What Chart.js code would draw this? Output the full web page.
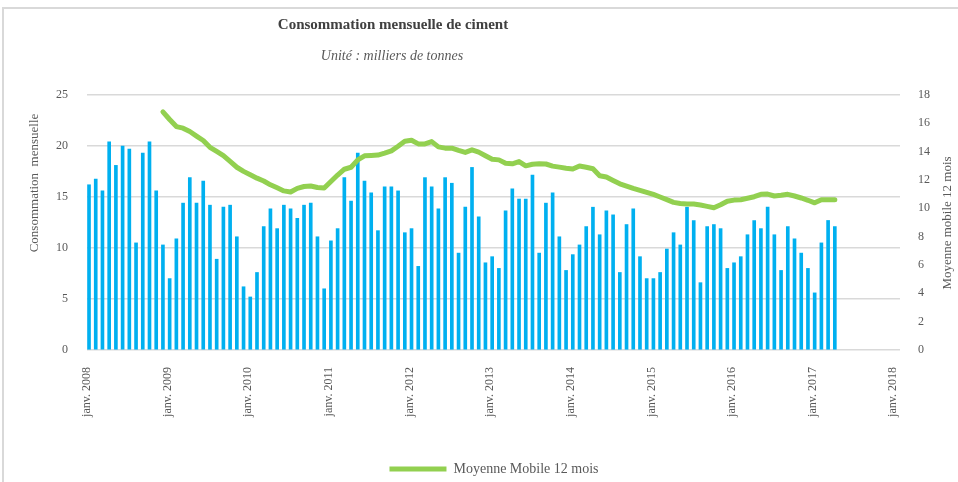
<!DOCTYPE html>
<html>
<head>
<meta charset="utf-8">
<script src="https://cdn.jsdelivr.net/npm/chart.js@4.4.1/dist/chart.umd.min.js"></script>
<style>
  html, body { margin: 0; padding: 0; background: #fff; }
  #wrap { position: relative; width: 958px; height: 482px; overflow: hidden; }
  #frame { position: absolute; left: 2px; top: 7px; width: 1000px; height: 520px;
           border: 2px solid #d9d9d9; box-sizing: border-box; pointer-events: none; }
  canvas { position: absolute; left: 0; top: 0; }
</style>
</head>
<body>
<div id="wrap">
  <div id="frame"></div>
  <canvas id="graf" width="958" height="482"></canvas>
</div>
<script>
// Consommation mensuelle de ciment, janv. 2008 -> avr. 2017 (milliers de tonnes)
const consommation = [
  16.2, 16.75, 15.6, 20.4, 18.1, 20.0, 19.7, 10.5, 19.3, 20.4, 15.6, 10.3,
  7.0, 10.9, 14.4, 16.9, 14.4, 16.55, 14.2, 8.9, 14.0, 14.2, 11.1, 6.2,
  5.2, 7.6, 12.1, 13.85, 11.9, 14.2, 13.85, 12.9, 14.2, 14.4, 11.1, 6.0,
  10.7, 11.9, 16.9, 14.6, 19.3, 16.55, 15.4, 11.7, 16.0, 16.0, 15.6, 11.5,
  11.9, 8.2, 16.9, 16.0, 13.85, 16.9, 16.35, 9.5, 14.0, 17.9, 13.05, 8.55,
  9.15, 8.0, 13.65, 15.8, 14.8, 14.8, 17.15, 9.5, 14.4, 15.4, 11.1, 7.8,
  9.35, 10.3, 12.1, 14.0, 11.3, 13.65, 13.25, 7.6, 12.3, 13.85, 9.15, 7.0,
  7.0, 7.6, 9.9, 11.5, 10.3, 14.0, 12.7, 6.6, 12.1, 12.3, 11.9, 8.0,
  8.55, 9.15, 11.3, 12.7, 11.9, 14.0, 11.3, 7.8, 12.1, 10.9, 9.5, 8.0,
  5.6, 10.5, 12.7, 12.1
]

// moyenne mobile 12 mois, a partir de dec. 2008
const mmDebut = 11
const moyenneMobile = [
  16.81, 16.27, 15.77, 15.66, 15.42, 15.10, 14.79, 14.31, 14.02, 13.72, 13.31, 12.90,
  12.61, 12.37, 12.13, 11.93, 11.66, 11.45, 11.23, 11.15, 11.41, 11.54, 11.58, 11.47,
  11.43, 11.89, 12.35, 12.76, 12.90, 13.42, 13.71, 13.73, 13.76, 13.90, 14.06, 14.38,
  14.73, 14.80, 14.55, 14.55, 14.71, 14.34, 14.25, 14.25, 14.09, 13.95, 14.13, 13.97,
  13.71, 13.46, 13.42, 13.18, 13.14, 13.30, 13.00, 13.11, 13.14, 13.13, 12.98, 12.91,
  12.83, 12.77, 12.99, 12.90, 12.79, 12.30, 12.21, 11.97, 11.73, 11.57, 11.41, 11.27,
  11.13, 10.98, 10.80, 10.61, 10.42, 10.34, 10.30, 10.30, 10.23, 10.14, 10.04, 10.25,
  10.50, 10.58, 10.61, 10.71, 10.82, 10.99, 11.01, 10.87, 10.92, 10.99, 10.87, 10.73,
  10.57, 10.39, 10.61, 10.61, 10.61
]

const anneeTicks = ['janv. 2008', 'janv. 2009', 'janv. 2010', 'janv. 2011', 'janv. 2012',
  'janv. 2013', 'janv. 2014', 'janv. 2015', 'janv. 2016', 'janv. 2017', 'janv. 2018']

const gris = '#595959'
const serif = "'Liberation Serif', 'DejaVu Serif', serif"

// titres dessines a la main (position decalee comme dans Excel)
const titres = {
  id: 'titres',
  afterLayout(chart) {
    // legende un peu decalee vers la droite comme dans l'original
    chart.legend.left += 15
    chart.legend.right += 15
  },
  afterDraw(chart) {
    const ctx = chart.ctx
    ctx.save()
    ctx.textAlign = 'center'
    ctx.textBaseline = 'middle'
    ctx.fillStyle = '#404040'
    ctx.font = 'bold 15px ' + serif
    ctx.fillText('Consommation mensuelle de ciment', 393, 25)
    ctx.fillStyle = gris
    ctx.font = 'italic 14px ' + serif
    ctx.fillText('Unité : milliers de tonnes', 392, 56)

    ctx.font = '13px ' + serif
    ctx.translate(35, 183)
    ctx.rotate(-Math.PI / 2)
    ctx.fillText('Consommation  mensuelle', 0, 0)
    ctx.restore()

    ctx.save()
    ctx.textAlign = 'center'
    ctx.textBaseline = 'middle'
    ctx.fillStyle = gris
    ctx.font = '13px ' + serif
    ctx.translate(948, 223)
    ctx.rotate(-Math.PI / 2)
    ctx.fillText('Moyenne mobile 12 mois', 0, 0)
    ctx.restore()
  }
}

new Chart(document.getElementById('graf'), {
  data: {
    datasets: [
      {
        type: 'bar',
        label: 'Consommation mensuelle',
        data: consommation.map((v, i) => ({ x: i + 0.3, y: v })),
        backgroundColor: '#00b0f0',
        barThickness: 3,
        yAxisID: 'y',
        order: 2
      },
      {
        type: 'line',
        label: 'Moyenne Mobile 12 mois',
        data: moyenneMobile.map((v, i) => ({ x: i + mmDebut + 0.3, y: v })),
        borderColor: '#92d050',
        backgroundColor: '#92d050',
        borderWidth: 5,
        pointRadius: 0,
        borderJoinStyle: 'round',
        borderCapStyle: 'round',
        yAxisID: 'y1',
        order: 1
      }
    ]
  },
  options: {
    responsive: false,
    animation: false,
    layout: { padding: { top: 95, left: 0, right: 0, bottom: -4 } },
    scales: {
      x: {
        type: 'linear',
        offset: false,
        min: 0,
        max: 121,
        afterBuildTicks: s => { s.ticks = anneeTicks.map((t, i) => ({ value: i * 12 })) },
        afterFit: s => { s.height = 106 },
        ticks: {
          callback: (v) => anneeTicks[Math.round(v / 12)],
          minRotation: 90,
          maxRotation: 90,
          padding: 9,
          color: gris,
          font: { family: serif, size: 12 }
        },
        grid: { display: false, offset: false },
        border: { display: false }
      },
      y: {
        position: 'left',
        min: 0,
        max: 25,
        afterFit: s => { s.width = 87 },
        ticks: { stepSize: 5, padding: 19, color: gris, font: { family: serif, size: 12 } },
        grid: { color: '#d9d9d9', lineWidth: 1.5, drawTicks: false },
        border: { display: false }
      },
      y1: {
        position: 'right',
        min: 0,
        max: 18,
        afterFit: s => { s.width = 58 },
        ticks: { stepSize: 2, padding: 18, color: gris, font: { family: serif, size: 12 } },
        grid: { display: false, drawTicks: false },
        border: { display: false }
      }
    },
    plugins: {
      title: { display: false },
      tooltip: { enabled: false },
      legend: {
        position: 'bottom',
        labels: {
          filter: item => item.datasetIndex === 1,
          usePointStyle: true,
          pointStyle: 'line',
          pointStyleWidth: 57,
          padding: 6,
          color: gris,
          font: { family: serif, size: 14 }
        }
      }
    }
  },
  plugins: [titres]
})
</script>
</body>
</html>
